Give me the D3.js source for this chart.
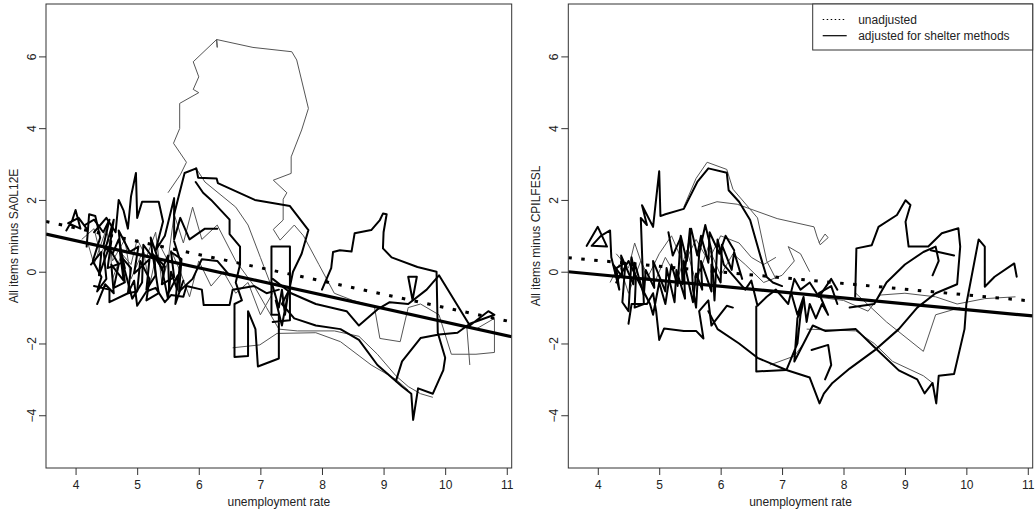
<!DOCTYPE html>
<html><head><meta charset="utf-8">
<script src="https://cdn.jsdelivr.net/npm/d3@7"></script>
<style>
body{margin:0;background:#fff}
svg{display:block}
text{font-family:"Liberation Sans",Arial,sans-serif;fill:#222}
</style>
</head><body>
<svg id="chart" width="1035" height="512"></svg>
<script>
// ---------------- data ----------------
const xTicks = [4,5,6,7,8,9,10,11];
const yTicks = [-4,-2,0,2,4,6];
const xDomain = [3.52, 11.08];
const yDomain = [-5.47, 7.46];
const xTitle = "unemployment rate";
const yTitles = ["All items minus SA0L12E", "All items minus CPILFESL"];
const legendLabels = ["unadjusted", "adjusted for shelter methods"];

// regression lines: [intercept, slope]
const leftFitUnadjusted = [2.70, -0.370];
const leftFitAdjusted   = [2.377, -0.378];
const rightFitUnadjusted = [0.953, -0.160];
const rightFitAdjusted   = [0.573, -0.163];

// paths: [unemployment rate, inflation difference]
const leftAdjusted = [
 [[3.85,1.15],[3.95,1.45],[4.0,1.72],[4.08,1.2],[3.88,1.35],[4.05,1.5],[4.2,1.15],[4.18,0.7],[4.22,1.6],[4.32,1.55],[4.4,0.95],[4.28,0.3],[4.42,-0.15],[4.35,-0.55],[4.5,-0.2],[4.46,0.5],[4.62,1.45],[4.55,0.65],[4.7,0.2],[4.62,-0.45],[4.8,-0.3],[4.75,0.4],[4.9,0.1],[4.85,-0.6],[5.0,-0.55],[5.05,0.3],[5.2,-0.2],[5.15,-0.8],[5.35,-0.6],[5.25,0.5],[5.4,0.1],[5.5,-0.75],[5.55,0.0],[5.65,-0.5],[5.7,0.3],[5.6,0.85]],
 [[4.3,1.1],[4.5,1.5],[4.65,1.1],[4.7,2.0],[4.78,1.7],[4.85,1.2],[4.9,2.1],[4.98,2.75],[5.0,1.5],[5.08,1.95],[5.35,1.95],[5.42,1.4],[5.3,0.6],[5.45,1.0],[5.6,2.05],[5.6,0.9],[5.7,1.5],[5.85,0.9],[6.1,1.2],[6.3,1.2]],
 [[5.6,1.6],[5.77,2.75],[5.96,2.88],[5.99,2.62],[6.29,2.6],[6.31,2.47],[6.91,2.0],[7.48,1.83],[7.78,1.16],[7.67,0.5],[7.53,0.0],[7.47,-0.5],[7.35,-0.9],[7.55,-1.3],[7.9,-1.5],[8.3,-1.6],[8.6,-1.9],[8.9,-2.6],[9.3,-3.2],[9.45,-3.4],[9.48,-4.13],[9.56,-3.25],[9.8,-3.4],[9.97,-2.74],[10.0,-2.4],[9.88,-1.7],[9.86,0.0],[9.55,0.13],[9.13,0.4],[8.99,0.65],[9.0,1.1],[9.05,1.6],[8.99,1.62],[8.94,1.44],[8.8,1.16],[8.53,1.07],[8.48,0.56],[8.29,0.6],[8.18,0.55],[8.15,0.1],[8.0,-0.5]],
 [[5.95,2.5],[6.07,2.2],[6.2,2.0],[6.5,1.45],[6.5,1.05],[6.67,0.7],[6.67,0.2],[6.6,-0.3],[6.7,-0.8],[6.58,-0.9],[6.58,-2.38],[6.8,-2.35],[6.8,-1.1],[6.92,-1.6],[6.96,-2.64],[7.3,-2.42],[7.3,-1.2],[7.18,-1.2],[7.18,0.7],[7.48,0.7],[7.48,-1.35],[7.2,-1.4]],
 [[4.3,-0.4],[4.55,-0.5],[4.55,-0.85],[4.85,-0.6],[4.95,-0.25],[5.0,-0.95],[5.15,-0.55],[5.3,-0.45],[5.45,-0.85],[5.55,-0.65],[5.75,-0.7],[5.8,-0.4],[6.05,-0.5],[6.08,-0.93],[6.5,-0.93],[6.55,-0.5],[6.9,-0.4],[7.1,-0.6],[7.3,-0.5]],
 [[7.2,-0.2],[7.5,-0.6],[7.9,-0.9],[8.4,-1.1],[8.6,-1.5],[8.9,-1.05],[9.1,-0.85],[9.4,-0.9],[9.7,-0.5],[9.9,-0.1],[10.4,-1.5],[10.7,-1.1],[10.8,-1.2],[10.4,-1.45],[10.2,-1.7],[9.9,-1.75],[9.6,-1.85],[9.3,-2.5],[9.2,-3.05]],
 [[9.4,-0.14],[9.54,-0.14],[9.47,-0.79],[9.4,-0.14]],
 [[4.25,0.2],[4.42,0.55],[4.38,-0.1],[4.58,0.85],[4.52,0.1],[4.75,0.25],[4.7,1.15],[4.88,0.55],[5.02,0.7],[4.95,-0.05],[5.2,0.35],[5.15,-0.5],[5.3,-0.1],[5.28,0.45],[5.45,0.15],[5.4,-0.35],[5.6,-0.15],[5.55,0.55],[5.72,0.35],[5.68,-0.55],[5.9,-0.2],[6.05,0.35],[6.3,0.3],[6.5,-0.1]],
 [[4.35,-0.9],[4.48,-0.35],[4.62,-0.6],[4.58,0.2],[4.78,-0.25],[4.72,0.55],[4.92,-0.75],[5.08,-0.3],[5.1,0.75],[5.25,0.4],[5.22,0.95],[5.4,0.05],[5.5,0.45],[5.52,-0.55],[5.66,-0.1],[5.62,-0.9],[5.75,-0.25]],
 [[4.15,1.3],[4.3,1.45],[4.45,1.1],[4.55,1.45],[4.45,0.7],[4.6,0.5],[4.7,0.9],[4.8,0.1]],
 [[7.2,-0.4],[7.3,-1.0],[7.35,-0.5],[7.4,-1.2],[7.45,-0.6],[7.35,-1.5],[7.25,-0.8]]
];
const leftUnadjusted = [
 [[5.5,2.2],[5.7,2.7],[5.8,3.05],[5.59,3.58],[5.69,3.99],[5.69,4.69],[6.0,4.99],[5.91,5.08],[6.0,5.43],[5.91,5.85],[6.29,6.47],[6.3,6.25],[6.29,6.47],[6.88,6.25],[7.51,6.13],[7.59,5.9],[7.78,4.55],[7.67,3.95],[7.5,3.2],[7.5,2.74],[7.21,2.55],[7.43,2.2],[7.37,2.02],[7.37,1.44],[7.21,1.18],[7.32,0.88],[7.55,1.3],[7.7,1.0],[7.95,0.2],[8.2,-0.6],[8.5,-0.8],[8.85,-0.97],[8.94,-1.86],[9.27,-1.95],[9.4,-1.0],[9.6,-0.9],[9.9,-1.2],[10.1,-2.3],[10.5,-2.3],[10.8,-2.25],[10.8,-1.3],[10.5,-1.6],[10.35,-1.5],[10.4,-2.6]],
 [[4.2,0.8],[4.3,0.2],[4.5,1.2],[4.6,0.3],[4.8,0.9],[4.9,-0.2],[5.1,0.6],[5.2,-0.4],[5.35,0.8],[5.5,0.3],[5.6,1.6],[5.75,0.8],[5.9,1.8],[6.05,0.9],[6.3,1.3],[6.6,0.3],[6.9,-0.4],[7.1,-1.0],[7.3,-1.6],[7.6,-1.65],[8.2,-1.65],[8.6,-1.8],[8.9,-2.3],[9.2,-2.9],[9.4,-3.2],[9.6,-3.4],[9.8,-3.5]],
 [[6.55,-2.12],[6.99,-2.04],[7.27,-1.72],[7.9,-1.7],[8.3,-1.95],[8.8,-2.6],[9.2,-3.0],[9.4,-3.3]],
 [[5.95,2.9],[6.1,2.5],[6.6,1.8],[6.8,1.3],[7.0,0.4],[7.2,-0.5]],
 [[4.1,0.9],[4.3,1.2],[4.4,0.5],[4.55,0.9],[4.6,-0.2],[4.75,0.5],[4.9,0.2],[5.0,0.9],[5.15,0.4],[5.3,1.1],[5.4,-0.3],[5.55,0.6],[5.7,0.0],[5.85,-0.7],[6.0,0.3],[6.2,-0.4],[6.4,0.0],[6.6,-0.6],[6.8,-0.3],[7.0,-1.2],[7.2,-0.6]]
];
const rightAdjusted = [
 [[3.82,0.72],[4.0,1.25],[4.15,0.7],[3.9,0.72],[4.05,1.0],[4.2,1.15],[4.22,0.4],[4.35,-0.5],[4.3,0.1],[4.45,0.25],[4.4,-0.85],[4.5,-1.1],[4.55,0.4],[4.62,-0.2],[4.6,-1.0],[4.75,-0.9],[4.7,1.5],[4.8,1.3],[4.72,1.85],[4.9,1.25],[5.0,2.8],[5.02,1.55],[5.1,1.6],[5.4,1.75],[5.62,2.5],[5.8,2.88],[6.1,2.76],[6.13,2.27],[6.3,1.95],[6.48,1.44],[6.65,0.42],[6.75,-0.15],[6.85,-0.3],[7.0,-0.4]],
 [[4.3,-0.3],[4.5,0.3],[4.7,-0.4],[4.85,-0.9],[4.9,-1.2],[5.0,-0.3],[5.1,-0.9],[5.2,0.2],[5.3,-0.4],[5.35,1.0],[5.45,0.3],[5.5,1.2],[5.55,-0.5],[5.6,-1.0],[5.65,0.5],[5.75,1.3],[5.85,0.6],[5.9,-0.8],[5.95,0.9],[6.05,0.2],[6.2,-0.1],[6.4,-0.5],[6.5,-0.25],[6.6,-0.95],[6.75,-0.7],[6.9,-0.5],[7.1,-0.9],[7.2,-0.2],[7.3,-0.5],[7.45,-0.3],[7.6,-0.7],[7.8,-0.2],[7.9,-0.5]],
 [[4.5,-1.45],[4.55,-0.9],[4.8,-0.9],[4.9,-0.6],[4.95,-1.1],[5.0,-1.9],[5.08,-1.58],[5.4,-1.65],[5.6,-1.65],[5.72,-1.86],[5.65,-1.1],[5.8,-0.8],[5.85,-1.5],[6.1,-0.95],[6.2,-1.0]],
 [[5.8,-1.1],[5.95,-1.6],[6.3,-2.0],[6.6,-2.4],[7.07,-2.74],[7.45,-2.95],[7.61,-3.67],[7.68,-3.4],[7.82,-3.1],[8.1,-2.7],[8.5,-2.2],[8.9,-1.6],[9.2,-1.0],[9.5,-0.6],[9.85,-0.35],[9.9,0.7],[9.87,1.21],[9.6,1.07],[9.38,0.7],[9.06,0.7],[9.01,1.39],[9.09,1.86],[9.01,1.99],[8.87,1.58],[8.57,1.25],[8.46,0.74],[8.21,0.65],[8.19,-0.7]],
 [[6.58,-0.97],[6.58,-2.78],[7.07,-2.74],[7.25,-2.0],[7.3,-1.2],[7.35,-0.8],[7.25,-1.3],[7.2,-2.5],[7.5,-1.5],[7.7,-1.65],[8.2,-1.6],[8.5,-2.1],[8.9,-2.75],[9.2,-3.0],[9.32,-3.39],[9.45,-3.1],[9.51,-3.67],[9.55,-2.9],[9.8,-2.85],[9.97,-1.6],[10.0,-0.9],[10.2,0.9],[10.3,0.7],[10.3,-0.42],[10.46,-0.14],[10.78,0.23],[10.82,-0.14]],
 [[7.48,-2.18],[7.75,-2.04],[7.8,-2.6],[7.7,-3.0]],
 [[8.1,-1.0],[8.5,-0.9],[8.7,-0.3],[9.0,0.2],[9.3,0.55],[9.5,0.7],[9.55,0.3],[9.45,-0.1]],
 [[9.42,0.6],[9.8,0.45]],
 [[4.25,0.2],[4.4,-0.15],[4.38,0.45],[4.58,-0.35],[4.6,0.25],[4.75,-0.65],[4.78,0.05],[4.92,-0.45],[4.9,0.3],[5.1,-0.55],[5.12,0.1],[5.25,-0.85],[5.28,0.05],[5.42,-0.75],[5.4,0.3],[5.55,-0.85],[5.6,-0.05],[5.7,-0.5],[5.68,0.3],[5.85,-0.55],[5.85,0.2],[6.0,-0.3],[6.02,0.75],[6.18,0.05],[6.22,0.55],[6.35,-0.2]],
 [[5.15,1.1],[5.22,0.45],[5.35,0.95],[5.38,-0.35],[5.52,1.2],[5.62,0.45],[5.68,1.0],[5.8,0.25],[5.82,1.1],[5.98,0.5],[6.08,1.0],[6.22,0.6]],
 [[7.15,-0.6],[7.25,-1.2],[7.35,-0.7],[7.4,-1.4],[7.45,-0.9],[7.55,-1.3],[7.65,-0.9],[7.75,-1.2],[7.6,-0.6],[7.8,-0.4],[7.9,-0.9]]
];
const rightUnadjusted = [
 [[5.69,1.81],[5.94,1.95],[6.27,1.88],[6.92,1.48],[7.52,1.25],[7.57,0.97],[7.62,0.75],[7.75,0.95],[7.7,1.05],[7.6,0.8]],
 [[5.4,1.8],[5.6,2.6],[5.78,3.05],[6.1,2.85],[6.2,2.3],[6.6,1.5],[6.75,0.3],[6.9,-0.2]],
 [[7.55,-0.7],[8.0,-0.8],[8.4,-1.1],[8.6,-0.65],[9.0,-0.6],[9.5,-0.7],[9.85,-0.9],[10.3,-0.75],[10.8,-0.7]],
 [[8.2,-0.6],[8.7,-1.4],[9.3,-2.22],[9.5,-1.2],[9.9,-1.0]],
 [[4.2,-0.3],[4.35,0.2],[4.5,-0.6],[4.7,0.3],[4.9,-0.4],[5.1,0.4],[5.3,-0.2],[5.45,0.6],[5.6,-0.3],[5.8,0.7],[6.0,-0.1],[6.2,0.5],[6.4,0.2],[6.7,-0.3],[7.0,-0.1],[7.2,0.3],[7.1,0.7],[7.3,0.5],[7.45,0.0]],
 [[7.4,-1.6],[8.2,-1.65],[8.5,-2.0],[8.8,-2.5],[9.3,-2.9],[9.45,-3.1]],
 [[6.8,-2.6],[7.2,-2.35],[7.35,-2.0]],
 [[4.3,0.5],[4.5,0.1],[4.6,0.8],[4.8,-0.2],[5.0,0.5],[5.2,1.0],[5.4,0.2],[5.6,0.9],[5.8,0.3],[6.0,1.0],[6.3,0.8],[6.5,0.4],[6.7,0.2],[6.9,0.4]]
];

// ---------------- drawing ----------------
const svg = d3.select("#chart");
const plotTop = 4, plotBottom = 468;
const panels = [
  {x0:46, x1:511.7, yTitle:yTitles[0], adj:leftAdjusted, unadj:leftUnadjusted, fitU:leftFitUnadjusted, fitA:leftFitAdjusted, legend:false},
  {x0:568.3, x1:1032.7, yTitle:yTitles[1], adj:rightAdjusted, unadj:rightUnadjusted, fitU:rightFitUnadjusted, fitA:rightFitAdjusted, legend:true}
];
const y = d3.scaleLinear().domain(yDomain).range([plotBottom, plotTop]);

panels.forEach((p, i) => {
  const x = d3.scaleLinear().domain(xDomain).range([p.x0, p.x1]);
  const g = svg.append("g");
  const clipId = "clip" + i;
  svg.append("clipPath").attr("id", clipId).append("rect")
    .attr("x", p.x0).attr("y", plotTop).attr("width", p.x1 - p.x0).attr("height", plotBottom - plotTop);
  const plot = g.append("g").attr("clip-path", `url(#${clipId})`);
  const line = d3.line().x(d => x(d[0])).y(d => y(d[1]));

  plot.selectAll("path.unadj").data(p.unadj).join("path").attr("class","unadj")
    .attr("d", line).attr("fill","none").attr("stroke","#555").attr("stroke-width",1)
    .attr("stroke-linejoin","round");
  plot.selectAll("path.adj").data(p.adj).join("path").attr("class","adj")
    .attr("d", line).attr("fill","none").attr("stroke","#000").attr("stroke-width",2)
    .attr("stroke-linejoin","round").attr("stroke-linecap","round");

  const fitPts = f => xDomain.map(u => [u, f[0] + f[1]*u]);
  plot.append("path").attr("d", line(fitPts(p.fitU))).attr("fill","none")
    .attr("stroke","#000").attr("stroke-width",3).attr("stroke-dasharray","3.5,9.5");
  plot.append("path").attr("d", line(fitPts(p.fitA))).attr("fill","none")
    .attr("stroke","#000").attr("stroke-width",3.2);

  // box
  g.append("rect").attr("x", p.x0).attr("y", plotTop).attr("width", p.x1 - p.x0).attr("height", plotBottom - plotTop)
    .attr("fill","none").attr("stroke","#333").attr("stroke-width",1);

  // x axis
  const xa = g.append("g").attr("transform", `translate(0,${plotBottom})`)
    .call(d3.axisBottom(x).tickValues(xTicks).tickSize(7).tickPadding(5).tickFormat(d3.format("d")));
  xa.select(".domain").remove();
  xa.selectAll("line").attr("stroke","#333");
  xa.selectAll("text").attr("font-size", 12).attr("fill","#222").style("font-family","'Liberation Sans',Arial,sans-serif");

  // y axis
  const ya = g.append("g").attr("transform", `translate(${p.x0},0)`)
    .call(d3.axisLeft(y).tickValues(yTicks).tickSize(7).tickFormat(d3.format("d")));
  ya.select(".domain").remove();
  ya.selectAll("line").attr("stroke","#333");
  ya.selectAll("text").attr("font-size", 12).attr("fill","#222")
    .attr("x", null).attr("dy", "0.35em").attr("text-anchor","middle")
    .attr("transform", "translate(-14.5,0) rotate(-90)")
    .style("font-family","'Liberation Sans',Arial,sans-serif");

  // titles
  g.append("text").attr("x", (p.x0 + p.x1)/2).attr("y", 506).attr("text-anchor","middle")
    .attr("font-size", 12).text(xTitle);
  g.append("text").attr("transform", `translate(${p.x0 - 28},${(plotTop+plotBottom)/2}) rotate(-90)`)
    .attr("text-anchor","middle").attr("font-size", 12).text(p.yTitle);

  if (p.legend) {
    const lx = 812.7, lw = p.x1 - lx, lh = 46;
    const lg = g.append("g");
    lg.append("rect").attr("x", lx).attr("y", plotTop).attr("width", lw).attr("height", lh)
      .attr("fill","#fff").attr("stroke","#333").attr("stroke-width",1);
    const rows = [{dash:"1.5,2.5", yy:19.5}, {dash:null, yy:35.7}];
    rows.forEach((r, k) => {
      lg.append("line").attr("x1", lx + 10).attr("x2", lx + 34).attr("y1", r.yy).attr("y2", r.yy)
        .attr("stroke","#000").attr("stroke-width",1.2).attr("stroke-dasharray", r.dash);
      lg.append("text").attr("x", lx + 45.5).attr("y", r.yy + 4.3).attr("font-size", 12).text(legendLabels[k]);
    });
  }
});
</script>
</body></html>
